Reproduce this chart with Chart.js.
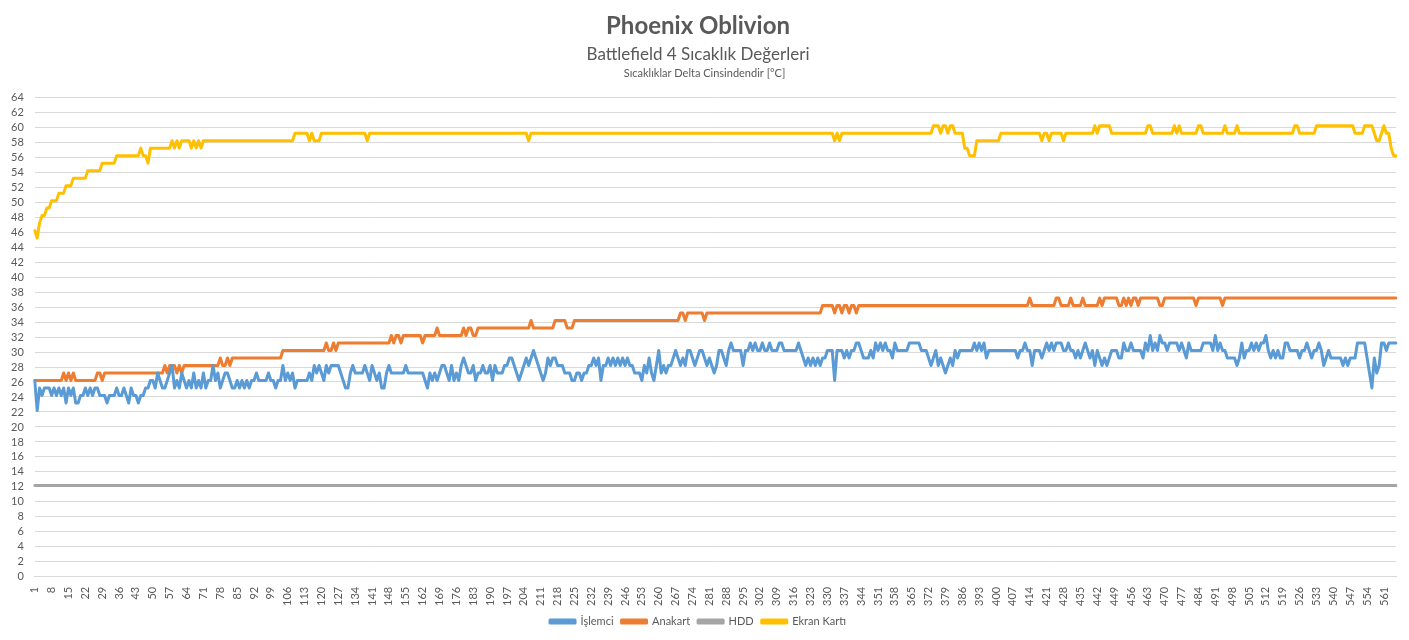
<!DOCTYPE html>
<html>
<head>
<meta charset="utf-8">
<script src="https://cdn.jsdelivr.net/npm/chart.js@4.4.1/dist/chart.umd.min.js"></script>
<style>
  html, body { margin: 0; padding: 0; background: #fff; }
</style>
</head>
<body>
<canvas id="grafik" width="1409" height="640"></canvas>
<script>
// olcum sirasi (1..566)
const olcumSayisi = 566;
const etiketler = Array.from({ length: olcumSayisi }, (_, i) => String(i + 1));

const islemci = [
  26.2, 22.2, 25.2, 24.2, 25.2, 25.2, 25.2, 24.2, 25.2, 24.2,
  25.2, 24.2, 25.2, 23.2, 25.2, 24.2, 25.2, 23.2, 23.2, 24.2,
  24.2, 25.2, 24.2, 25.2, 24.2, 25.2, 25.2, 24.2, 24.2, 24.2,
  23.2, 24.2, 24.2, 24.2, 25.2, 24.2, 24.2, 25.2, 24.2, 23.2,
  25.2, 24.2, 24.2, 23.2, 24.2, 24.2, 25.2, 25.2, 26.2, 26.2,
  25.2, 27.2, 26.2, 25.2, 25.2, 26.2, 27.2, 28.2, 25.2, 26.2,
  25.2, 27.2, 26.2, 25.2, 26.2, 25.2, 27.2, 25.2, 26.2, 25.2,
  27.2, 25.2, 26.2, 26.2, 28.2, 26.2, 27.2, 25.2, 26.2, 27.2,
  27.2, 26.2, 25.2, 25.2, 26.2, 25.2, 26.2, 25.2, 26.2, 25.2,
  26.2, 26.2, 27.2, 26.2, 26.2, 26.2, 26.2, 27.2, 26.2, 26.2,
  25.2, 26.2, 26.2, 28.2, 26.2, 27.2, 26.2, 27.2, 25.2, 26.2,
  26.2, 26.2, 26.2, 26.2, 27.2, 26.2, 28.2, 27.2, 28.2, 27.2,
  26.2, 28.2, 27.2, 28.2, 28.2, 28.2, 28.2, 27.2, 26.2, 25.2,
  25.2, 27.2, 28.2, 27.2, 27.2, 27.2, 27.2, 28.2, 27.2, 26.2,
  28.2, 27.2, 26.2, 27.2, 25.2, 25.2, 27.2, 28.2, 27.2, 27.2,
  27.2, 27.2, 27.2, 27.2, 28.2, 27.2, 27.2, 27.2, 27.2, 27.2,
  27.2, 27.2, 26.2, 25.2, 27.2, 26.2, 27.2, 26.2, 27.2, 28.2,
  28.2, 27.2, 26.2, 28.2, 26.2, 27.2, 26.2, 28.2, 29.2, 28.2,
  27.2, 27.2, 28.2, 26.2, 27.2, 27.2, 28.2, 27.2, 27.2, 28.2,
  26.2, 28.2, 27.2, 27.2, 27.2, 28.2, 28.2, 29.2, 29.2, 28.2,
  27.2, 26.2, 27.2, 28.2, 29.2, 28.2, 29.2, 30.2, 29.2, 28.2,
  27.2, 26.2, 27.2, 29.2, 28.2, 29.2, 29.2, 28.2, 28.2, 28.2,
  27.2, 27.2, 27.2, 26.2, 26.2, 27.2, 27.2, 26.2, 27.2, 27.2,
  28.2, 28.2, 29.2, 28.2, 29.2, 26.2, 28.2, 28.2, 29.2, 28.2,
  29.2, 28.2, 29.2, 28.2, 29.2, 28.2, 29.2, 28.2, 28.2, 27.2,
  27.2, 27.2, 26.2, 28.2, 27.2, 29.2, 27.2, 26.2, 28.2, 30.2,
  27.2, 28.2, 27.2, 28.2, 28.2, 29.2, 30.2, 29.2, 28.2, 29.2,
  28.2, 30.2, 30.2, 29.2, 28.2, 29.2, 30.2, 30.2, 29.2, 28.2,
  29.2, 28.2, 27.2, 28.2, 30.2, 30.2, 29.2, 28.2, 30.2, 31.2,
  30.2, 30.2, 30.2, 30.2, 28.2, 30.2, 30.2, 31.2, 30.2, 31.2,
  30.2, 30.2, 31.2, 30.2, 30.2, 31.2, 30.2, 30.2, 30.2, 31.2,
  31.2, 30.2, 30.2, 30.2, 30.2, 30.2, 30.2, 31.2, 30.2, 29.2,
  28.2, 29.2, 28.2, 29.2, 28.2, 29.2, 28.2, 29.2, 29.2, 30.2,
  30.2, 30.2, 26.2, 30.2, 30.2, 30.2, 29.2, 30.2, 29.2, 30.2,
  30.2, 31.2, 31.2, 30.2, 29.2, 29.2, 29.2, 30.2, 29.2, 31.2,
  30.2, 31.2, 30.2, 31.2, 30.2, 30.2, 29.2, 31.2, 30.2, 30.2,
  30.2, 30.2, 30.2, 31.2, 31.2, 31.2, 31.2, 31.2, 30.2, 30.2,
  30.2, 29.2, 28.2, 29.2, 30.2, 28.2, 29.2, 28.2, 27.2, 28.2,
  29.2, 28.2, 30.2, 29.2, 30.2, 30.2, 30.2, 30.2, 30.2, 30.2,
  31.2, 30.2, 31.2, 30.2, 31.2, 29.2, 30.2, 30.2, 30.2, 30.2,
  30.2, 30.2, 30.2, 30.2, 30.2, 30.2, 30.2, 30.2, 29.2, 30.2,
  30.2, 31.2, 30.2, 30.2, 28.2, 30.2, 30.2, 30.2, 29.2, 30.2,
  31.2, 30.2, 31.2, 30.2, 31.2, 31.2, 31.2, 30.2, 30.2, 31.2,
  30.2, 30.2, 29.2, 30.2, 29.2, 30.2, 31.2, 30.2, 29.2, 30.2,
  28.2, 30.2, 29.2, 28.2, 29.2, 28.2, 29.2, 30.2, 30.2, 30.2,
  29.2, 29.2, 31.2, 30.2, 30.2, 31.2, 30.2, 30.2, 30.2, 30.2,
  29.2, 31.2, 30.2, 32.2, 30.2, 31.2, 30.2, 32.2, 31.2, 31.2,
  30.2, 31.2, 31.2, 31.2, 31.2, 30.2, 31.2, 30.2, 29.2, 31.2,
  30.2, 30.2, 30.2, 30.2, 30.2, 31.2, 31.2, 31.2, 31.2, 30.2,
  32.2, 30.2, 31.2, 30.2, 30.2, 29.2, 29.2, 29.2, 29.2, 28.2,
  29.2, 31.2, 29.2, 30.2, 30.2, 31.2, 30.2, 31.2, 30.2, 31.2,
  31.2, 32.2, 30.2, 29.2, 30.2, 29.2, 30.2, 29.2, 29.2, 31.2,
  31.2, 30.2, 30.2, 30.2, 30.2, 29.2, 30.2, 30.2, 31.2, 30.2,
  29.2, 30.2, 30.2, 31.2, 30.2, 28.2, 29.2, 30.2, 29.2, 29.2,
  29.2, 29.2, 29.2, 28.2, 29.2, 28.2, 29.2, 29.2, 29.2, 31.2,
  31.2, 31.2, 31.2, 29.2, 27.2, 25.2, 29.2, 27.2, 28.2, 31.2,
  31.2, 30.2, 31.2, 31.2, 31.2, 31.2
];

const anakart = [
  26.2, 26.2, 26.2, 26.2, 26.2, 26.2, 26.2, 26.2, 26.2, 26.2,
  26.2, 26.2, 27.2, 26.2, 27.2, 26.2, 27.2, 26.2, 26.2, 26.2,
  26.2, 26.2, 26.2, 26.2, 26.2, 26.2, 27.2, 27.2, 26.2, 27.2,
  27.2, 27.2, 27.2, 27.2, 27.2, 27.2, 27.2, 27.2, 27.2, 27.2,
  27.2, 27.2, 27.2, 27.2, 27.2, 27.2, 27.2, 27.2, 27.2, 27.2,
  27.2, 27.2, 27.2, 27.2, 28.2, 27.2, 28.2, 28.2, 28.2, 27.2,
  28.2, 27.2, 28.2, 28.2, 28.2, 28.2, 28.2, 28.2, 28.2, 28.2,
  28.2, 28.2, 28.2, 28.2, 28.2, 28.2, 28.2, 29.2, 28.2, 28.2,
  29.2, 28.2, 29.2, 29.2, 29.2, 29.2, 29.2, 29.2, 29.2, 29.2,
  29.2, 29.2, 29.2, 29.2, 29.2, 29.2, 29.2, 29.2, 29.2, 29.2,
  29.2, 29.2, 29.2, 30.2, 30.2, 30.2, 30.2, 30.2, 30.2, 30.2,
  30.2, 30.2, 30.2, 30.2, 30.2, 30.2, 30.2, 30.2, 30.2, 30.2,
  30.2, 31.2, 30.2, 30.2, 31.2, 30.2, 31.2, 31.2, 31.2, 31.2,
  31.2, 31.2, 31.2, 31.2, 31.2, 31.2, 31.2, 31.2, 31.2, 31.2,
  31.2, 31.2, 31.2, 31.2, 31.2, 31.2, 31.2, 31.2, 32.2, 31.2,
  32.2, 32.2, 31.2, 32.2, 32.2, 32.2, 32.2, 32.2, 32.2, 32.2,
  32.2, 31.2, 32.2, 32.2, 32.2, 32.2, 32.2, 33.2, 32.2, 32.2,
  32.2, 32.2, 32.2, 32.2, 32.2, 32.2, 32.2, 32.2, 33.2, 32.2,
  33.2, 33.2, 32.2, 32.2, 33.2, 33.2, 33.2, 33.2, 33.2, 33.2,
  33.2, 33.2, 33.2, 33.2, 33.2, 33.2, 33.2, 33.2, 33.2, 33.2,
  33.2, 33.2, 33.2, 33.2, 33.2, 33.2, 34.2, 33.2, 33.2, 33.2,
  33.2, 33.2, 33.2, 33.2, 33.2, 33.2, 34.2, 34.2, 34.2, 34.2,
  34.2, 33.2, 33.2, 33.2, 34.2, 34.2, 34.2, 34.2, 34.2, 34.2,
  34.2, 34.2, 34.2, 34.2, 34.2, 34.2, 34.2, 34.2, 34.2, 34.2,
  34.2, 34.2, 34.2, 34.2, 34.2, 34.2, 34.2, 34.2, 34.2, 34.2,
  34.2, 34.2, 34.2, 34.2, 34.2, 34.2, 34.2, 34.2, 34.2, 34.2,
  34.2, 34.2, 34.2, 34.2, 34.2, 34.2, 34.2, 34.2, 35.2, 35.2,
  34.2, 35.2, 35.2, 35.2, 35.2, 35.2, 35.2, 35.2, 34.2, 35.2,
  35.2, 35.2, 35.2, 35.2, 35.2, 35.2, 35.2, 35.2, 35.2, 35.2,
  35.2, 35.2, 35.2, 35.2, 35.2, 35.2, 35.2, 35.2, 35.2, 35.2,
  35.2, 35.2, 35.2, 35.2, 35.2, 35.2, 35.2, 35.2, 35.2, 35.2,
  35.2, 35.2, 35.2, 35.2, 35.2, 35.2, 35.2, 35.2, 35.2, 35.2,
  35.2, 35.2, 35.2, 35.2, 35.2, 35.2, 35.2, 36.2, 36.2, 36.2,
  36.2, 36.2, 35.2, 36.2, 36.2, 35.2, 36.2, 36.2, 35.2, 36.2,
  36.2, 35.2, 36.2, 36.2, 36.2, 36.2, 36.2, 36.2, 36.2, 36.2,
  36.2, 36.2, 36.2, 36.2, 36.2, 36.2, 36.2, 36.2, 36.2, 36.2,
  36.2, 36.2, 36.2, 36.2, 36.2, 36.2, 36.2, 36.2, 36.2, 36.2,
  36.2, 36.2, 36.2, 36.2, 36.2, 36.2, 36.2, 36.2, 36.2, 36.2,
  36.2, 36.2, 36.2, 36.2, 36.2, 36.2, 36.2, 36.2, 36.2, 36.2,
  36.2, 36.2, 36.2, 36.2, 36.2, 36.2, 36.2, 36.2, 36.2, 36.2,
  36.2, 36.2, 36.2, 36.2, 36.2, 36.2, 36.2, 36.2, 36.2, 36.2,
  36.2, 36.2, 36.2, 37.2, 36.2, 36.2, 36.2, 36.2, 36.2, 36.2,
  36.2, 36.2, 36.2, 36.2, 37.2, 37.2, 36.2, 36.2, 36.2, 36.2,
  37.2, 36.2, 36.2, 36.2, 36.2, 37.2, 36.2, 36.2, 36.2, 36.2,
  36.2, 36.2, 37.2, 36.2, 37.2, 37.2, 37.2, 37.2, 37.2, 37.2,
  36.2, 36.2, 37.2, 36.2, 37.2, 36.2, 37.2, 37.2, 36.2, 37.2,
  37.2, 37.2, 37.2, 37.2, 37.2, 37.2, 37.2, 36.2, 36.2, 37.2,
  37.2, 37.2, 37.2, 37.2, 37.2, 37.2, 37.2, 37.2, 37.2, 37.2,
  37.2, 37.2, 36.2, 37.2, 37.2, 37.2, 37.2, 37.2, 37.2, 37.2,
  37.2, 37.2, 37.2, 36.2, 37.2, 37.2, 37.2, 37.2, 37.2, 37.2,
  37.2, 37.2, 37.2, 37.2, 37.2, 37.2, 37.2, 37.2, 37.2, 37.2,
  37.2, 37.2, 37.2, 37.2, 37.2, 37.2, 37.2, 37.2, 37.2, 37.2,
  37.2, 37.2, 37.2, 37.2, 37.2, 37.2, 37.2, 37.2, 37.2, 37.2,
  37.2, 37.2, 37.2, 37.2, 37.2, 37.2, 37.2, 37.2, 37.2, 37.2,
  37.2, 37.2, 37.2, 37.2, 37.2, 37.2, 37.2, 37.2, 37.2, 37.2,
  37.2, 37.2, 37.2, 37.2, 37.2, 37.2, 37.2, 37.2, 37.2, 37.2,
  37.2, 37.2, 37.2, 37.2, 37.2, 37.2
];

const hdd = [
  12.2, 12.2, 12.2, 12.2, 12.2, 12.2, 12.2, 12.2, 12.2, 12.2, 12.2, 12.2, 12.2, 12.2, 12.2, 12.2, 12.2, 12.2, 12.2, 12.2,
  12.2, 12.2, 12.2, 12.2, 12.2, 12.2, 12.2, 12.2, 12.2, 12.2, 12.2, 12.2, 12.2, 12.2, 12.2, 12.2, 12.2, 12.2, 12.2, 12.2,
  12.2, 12.2, 12.2, 12.2, 12.2, 12.2, 12.2, 12.2, 12.2, 12.2, 12.2, 12.2, 12.2, 12.2, 12.2, 12.2, 12.2, 12.2, 12.2, 12.2,
  12.2, 12.2, 12.2, 12.2, 12.2, 12.2, 12.2, 12.2, 12.2, 12.2, 12.2, 12.2, 12.2, 12.2, 12.2, 12.2, 12.2, 12.2, 12.2, 12.2,
  12.2, 12.2, 12.2, 12.2, 12.2, 12.2, 12.2, 12.2, 12.2, 12.2, 12.2, 12.2, 12.2, 12.2, 12.2, 12.2, 12.2, 12.2, 12.2, 12.2,
  12.2, 12.2, 12.2, 12.2, 12.2, 12.2, 12.2, 12.2, 12.2, 12.2, 12.2, 12.2, 12.2, 12.2, 12.2, 12.2, 12.2, 12.2, 12.2, 12.2,
  12.2, 12.2, 12.2, 12.2, 12.2, 12.2, 12.2, 12.2, 12.2, 12.2, 12.2, 12.2, 12.2, 12.2, 12.2, 12.2, 12.2, 12.2, 12.2, 12.2,
  12.2, 12.2, 12.2, 12.2, 12.2, 12.2, 12.2, 12.2, 12.2, 12.2, 12.2, 12.2, 12.2, 12.2, 12.2, 12.2, 12.2, 12.2, 12.2, 12.2,
  12.2, 12.2, 12.2, 12.2, 12.2, 12.2, 12.2, 12.2, 12.2, 12.2, 12.2, 12.2, 12.2, 12.2, 12.2, 12.2, 12.2, 12.2, 12.2, 12.2,
  12.2, 12.2, 12.2, 12.2, 12.2, 12.2, 12.2, 12.2, 12.2, 12.2, 12.2, 12.2, 12.2, 12.2, 12.2, 12.2, 12.2, 12.2, 12.2, 12.2,
  12.2, 12.2, 12.2, 12.2, 12.2, 12.2, 12.2, 12.2, 12.2, 12.2, 12.2, 12.2, 12.2, 12.2, 12.2, 12.2, 12.2, 12.2, 12.2, 12.2,
  12.2, 12.2, 12.2, 12.2, 12.2, 12.2, 12.2, 12.2, 12.2, 12.2, 12.2, 12.2, 12.2, 12.2, 12.2, 12.2, 12.2, 12.2, 12.2, 12.2,
  12.2, 12.2, 12.2, 12.2, 12.2, 12.2, 12.2, 12.2, 12.2, 12.2, 12.2, 12.2, 12.2, 12.2, 12.2, 12.2, 12.2, 12.2, 12.2, 12.2,
  12.2, 12.2, 12.2, 12.2, 12.2, 12.2, 12.2, 12.2, 12.2, 12.2, 12.2, 12.2, 12.2, 12.2, 12.2, 12.2, 12.2, 12.2, 12.2, 12.2,
  12.2, 12.2, 12.2, 12.2, 12.2, 12.2, 12.2, 12.2, 12.2, 12.2, 12.2, 12.2, 12.2, 12.2, 12.2, 12.2, 12.2, 12.2, 12.2, 12.2,
  12.2, 12.2, 12.2, 12.2, 12.2, 12.2, 12.2, 12.2, 12.2, 12.2, 12.2, 12.2, 12.2, 12.2, 12.2, 12.2, 12.2, 12.2, 12.2, 12.2,
  12.2, 12.2, 12.2, 12.2, 12.2, 12.2, 12.2, 12.2, 12.2, 12.2, 12.2, 12.2, 12.2, 12.2, 12.2, 12.2, 12.2, 12.2, 12.2, 12.2,
  12.2, 12.2, 12.2, 12.2, 12.2, 12.2, 12.2, 12.2, 12.2, 12.2, 12.2, 12.2, 12.2, 12.2, 12.2, 12.2, 12.2, 12.2, 12.2, 12.2,
  12.2, 12.2, 12.2, 12.2, 12.2, 12.2, 12.2, 12.2, 12.2, 12.2, 12.2, 12.2, 12.2, 12.2, 12.2, 12.2, 12.2, 12.2, 12.2, 12.2,
  12.2, 12.2, 12.2, 12.2, 12.2, 12.2, 12.2, 12.2, 12.2, 12.2, 12.2, 12.2, 12.2, 12.2, 12.2, 12.2, 12.2, 12.2, 12.2, 12.2,
  12.2, 12.2, 12.2, 12.2, 12.2, 12.2, 12.2, 12.2, 12.2, 12.2, 12.2, 12.2, 12.2, 12.2, 12.2, 12.2, 12.2, 12.2, 12.2, 12.2,
  12.2, 12.2, 12.2, 12.2, 12.2, 12.2, 12.2, 12.2, 12.2, 12.2, 12.2, 12.2, 12.2, 12.2, 12.2, 12.2, 12.2, 12.2, 12.2, 12.2,
  12.2, 12.2, 12.2, 12.2, 12.2, 12.2, 12.2, 12.2, 12.2, 12.2, 12.2, 12.2, 12.2, 12.2, 12.2, 12.2, 12.2, 12.2, 12.2, 12.2,
  12.2, 12.2, 12.2, 12.2, 12.2, 12.2, 12.2, 12.2, 12.2, 12.2, 12.2, 12.2, 12.2, 12.2, 12.2, 12.2, 12.2, 12.2, 12.2, 12.2,
  12.2, 12.2, 12.2, 12.2, 12.2, 12.2, 12.2, 12.2, 12.2, 12.2, 12.2, 12.2, 12.2, 12.2, 12.2, 12.2, 12.2, 12.2, 12.2, 12.2,
  12.2, 12.2, 12.2, 12.2, 12.2, 12.2, 12.2, 12.2, 12.2, 12.2, 12.2, 12.2, 12.2, 12.2, 12.2, 12.2, 12.2, 12.2, 12.2, 12.2,
  12.2, 12.2, 12.2, 12.2, 12.2, 12.2, 12.2, 12.2, 12.2, 12.2, 12.2, 12.2, 12.2, 12.2, 12.2, 12.2, 12.2, 12.2, 12.2, 12.2,
  12.2, 12.2, 12.2, 12.2, 12.2, 12.2, 12.2, 12.2, 12.2, 12.2, 12.2, 12.2, 12.2, 12.2, 12.2, 12.2, 12.2, 12.2, 12.2, 12.2,
  12.2, 12.2, 12.2, 12.2, 12.2, 12.2
];

const ekranKarti = [
  46.2, 45.2, 47.2, 48.2, 48.2, 49.2, 49.2, 50.2, 50.2, 50.2,
  51.2, 51.2, 51.2, 52.2, 52.2, 52.2, 53.2, 53.2, 53.2, 53.2,
  53.2, 53.2, 54.2, 54.2, 54.2, 54.2, 54.2, 54.2, 55.2, 55.2,
  55.2, 55.2, 55.2, 55.2, 56.2, 56.2, 56.2, 56.2, 56.2, 56.2,
  56.2, 56.2, 56.2, 56.2, 57.2, 56.2, 56.2, 55.2, 57.2, 57.2,
  57.2, 57.2, 57.2, 57.2, 57.2, 57.2, 57.2, 58.2, 57.2, 58.2,
  57.2, 58.2, 58.2, 58.2, 58.2, 57.2, 58.2, 57.2, 58.2, 57.2,
  58.2, 58.2, 58.2, 58.2, 58.2, 58.2, 58.2, 58.2, 58.2, 58.2,
  58.2, 58.2, 58.2, 58.2, 58.2, 58.2, 58.2, 58.2, 58.2, 58.2,
  58.2, 58.2, 58.2, 58.2, 58.2, 58.2, 58.2, 58.2, 58.2, 58.2,
  58.2, 58.2, 58.2, 58.2, 58.2, 58.2, 58.2, 58.2, 59.2, 59.2,
  59.2, 59.2, 59.2, 59.2, 58.2, 59.2, 58.2, 58.2, 58.2, 59.2,
  59.2, 59.2, 59.2, 59.2, 59.2, 59.2, 59.2, 59.2, 59.2, 59.2,
  59.2, 59.2, 59.2, 59.2, 59.2, 59.2, 59.2, 59.2, 58.2, 59.2,
  59.2, 59.2, 59.2, 59.2, 59.2, 59.2, 59.2, 59.2, 59.2, 59.2,
  59.2, 59.2, 59.2, 59.2, 59.2, 59.2, 59.2, 59.2, 59.2, 59.2,
  59.2, 59.2, 59.2, 59.2, 59.2, 59.2, 59.2, 59.2, 59.2, 59.2,
  59.2, 59.2, 59.2, 59.2, 59.2, 59.2, 59.2, 59.2, 59.2, 59.2,
  59.2, 59.2, 59.2, 59.2, 59.2, 59.2, 59.2, 59.2, 59.2, 59.2,
  59.2, 59.2, 59.2, 59.2, 59.2, 59.2, 59.2, 59.2, 59.2, 59.2,
  59.2, 59.2, 59.2, 59.2, 59.2, 58.2, 59.2, 59.2, 59.2, 59.2,
  59.2, 59.2, 59.2, 59.2, 59.2, 59.2, 59.2, 59.2, 59.2, 59.2,
  59.2, 59.2, 59.2, 59.2, 59.2, 59.2, 59.2, 59.2, 59.2, 59.2,
  59.2, 59.2, 59.2, 59.2, 59.2, 59.2, 59.2, 59.2, 59.2, 59.2,
  59.2, 59.2, 59.2, 59.2, 59.2, 59.2, 59.2, 59.2, 59.2, 59.2,
  59.2, 59.2, 59.2, 59.2, 59.2, 59.2, 59.2, 59.2, 59.2, 59.2,
  59.2, 59.2, 59.2, 59.2, 59.2, 59.2, 59.2, 59.2, 59.2, 59.2,
  59.2, 59.2, 59.2, 59.2, 59.2, 59.2, 59.2, 59.2, 59.2, 59.2,
  59.2, 59.2, 59.2, 59.2, 59.2, 59.2, 59.2, 59.2, 59.2, 59.2,
  59.2, 59.2, 59.2, 59.2, 59.2, 59.2, 59.2, 59.2, 59.2, 59.2,
  59.2, 59.2, 59.2, 59.2, 59.2, 59.2, 59.2, 59.2, 59.2, 59.2,
  59.2, 59.2, 59.2, 59.2, 59.2, 59.2, 59.2, 59.2, 59.2, 59.2,
  59.2, 59.2, 59.2, 59.2, 59.2, 59.2, 59.2, 59.2, 59.2, 59.2,
  59.2, 59.2, 58.2, 59.2, 58.2, 59.2, 59.2, 59.2, 59.2, 59.2,
  59.2, 59.2, 59.2, 59.2, 59.2, 59.2, 59.2, 59.2, 59.2, 59.2,
  59.2, 59.2, 59.2, 59.2, 59.2, 59.2, 59.2, 59.2, 59.2, 59.2,
  59.2, 59.2, 59.2, 59.2, 59.2, 59.2, 59.2, 59.2, 59.2, 59.2,
  59.2, 59.2, 59.2, 60.2, 60.2, 60.2, 59.2, 60.2, 60.2, 59.2,
  60.2, 60.2, 59.2, 59.2, 59.2, 59.2, 57.2, 57.2, 56.2, 56.2,
  56.2, 58.2, 58.2, 58.2, 58.2, 58.2, 58.2, 58.2, 58.2, 58.2,
  58.2, 59.2, 59.2, 59.2, 59.2, 59.2, 59.2, 59.2, 59.2, 59.2,
  59.2, 59.2, 59.2, 59.2, 59.2, 59.2, 59.2, 59.2, 58.2, 59.2,
  59.2, 58.2, 59.2, 59.2, 59.2, 59.2, 59.2, 58.2, 59.2, 59.2,
  59.2, 59.2, 59.2, 59.2, 59.2, 59.2, 59.2, 59.2, 59.2, 59.2,
  60.2, 59.2, 60.2, 60.2, 60.2, 60.2, 60.2, 59.2, 59.2, 59.2,
  59.2, 59.2, 59.2, 59.2, 59.2, 59.2, 59.2, 59.2, 59.2, 59.2,
  59.2, 59.2, 60.2, 60.2, 59.2, 59.2, 59.2, 59.2, 59.2, 59.2,
  59.2, 59.2, 59.2, 60.2, 59.2, 60.2, 59.2, 59.2, 59.2, 59.2,
  59.2, 59.2, 59.2, 60.2, 60.2, 59.2, 59.2, 59.2, 59.2, 59.2,
  59.2, 59.2, 59.2, 59.2, 60.2, 59.2, 59.2, 59.2, 59.2, 60.2,
  59.2, 59.2, 59.2, 59.2, 59.2, 59.2, 59.2, 59.2, 59.2, 59.2,
  59.2, 59.2, 59.2, 59.2, 59.2, 59.2, 59.2, 59.2, 59.2, 59.2,
  59.2, 59.2, 59.2, 60.2, 60.2, 59.2, 59.2, 59.2, 59.2, 59.2,
  59.2, 59.2, 60.2, 60.2, 60.2, 60.2, 60.2, 60.2, 60.2, 60.2,
  60.2, 60.2, 60.2, 60.2, 60.2, 60.2, 60.2, 60.2, 59.2, 59.2,
  59.2, 59.2, 60.2, 60.2, 60.2, 60.2, 59.2, 58.2, 58.2, 59.2,
  60.2, 59.2, 59.2, 57.2, 56.2, 56.2
];

const yaziRengi = "#595959";

// ucuncu baslik satiri (kucuk punto)
const altNot = {
  id: "altNot",
  afterDraw(chart) {
    const c = chart.ctx;
    c.save();
    c.font = "11px Lato";
    c.fillStyle = yaziRengi;
    c.textAlign = "center";
    c.textBaseline = "middle";
    c.fillText("Sıcaklıklar Delta Cinsindendir [°C]", chart.width / 2, 73);
    c.restore();
  }
};

function seri(ad, veri, renk) {
  return {
    label: ad,
    data: veri,
    borderColor: renk,
    backgroundColor: renk,
    borderWidth: 3,
    pointRadius: 0,
    tension: 0,
    borderJoinStyle: "round",
    borderCapStyle: "round",
    fill: false
  };
}

const ctx = document.getElementById("grafik").getContext("2d");
const grafik = new Chart(ctx, {
  type: "line",
  data: {
    labels: etiketler,
    datasets: [
      seri("İşlemci", islemci, "#5B9BD5"),
      seri("Anakart", anakart, "#ED7D31"),
      seri("HDD", hdd, "#A5A5A5"),
      seri("Ekran Kartı", ekranKarti, "#FFC000")
    ]
  },
  options: {
    responsive: false,
    animation: false,
    layout: { padding: { left: 0, right: 13, top: 0, bottom: 3 } },
    plugins: {
      title: {
        display: true,
        text: "Phoenix Oblivion",
        color: yaziRengi,
        font: { family: "Lato", size: 24, weight: "bold" },
        padding: { top: 12, bottom: 2 }
      },
      subtitle: {
        display: true,
        text: "Battlefield 4 Sıcaklık Değerleri",
        color: yaziRengi,
        font: { family: "Lato", size: 17 },
        padding: { top: 2, bottom: 32 }
      },
      legend: {
        position: "bottom",
        labels: {
          boxWidth: 25,
          boxHeight: 3,
          color: yaziRengi,
          font: { family: "Lato", size: 11 },
          padding: 8
        }
      },
      tooltip: { enabled: false }
    },
    scales: {
      x: {
        grid: { display: false },
        border: { color: "#d9d9d9" },
        ticks: {
          autoSkip: false,
          maxRotation: 90,
          minRotation: 90,
          padding: 2,
          color: yaziRengi,
          font: { family: "Lato", size: 11 },
          callback: (v, i) => (i % 7 === 0 ? etiketler[i] : null)
        }
      },
      y: {
        min: 0,
        max: 64,
        grid: { color: "#d9d9d9", drawTicks: false },
        border: { display: false },
        ticks: {
          autoSkip: false,
          stepSize: 2,
          padding: 11,
          color: yaziRengi,
          font: { family: "Lato", size: 11 }
        }
      }
    }
  },
  plugins: [altNot]
});
</script>
</body>
</html>
